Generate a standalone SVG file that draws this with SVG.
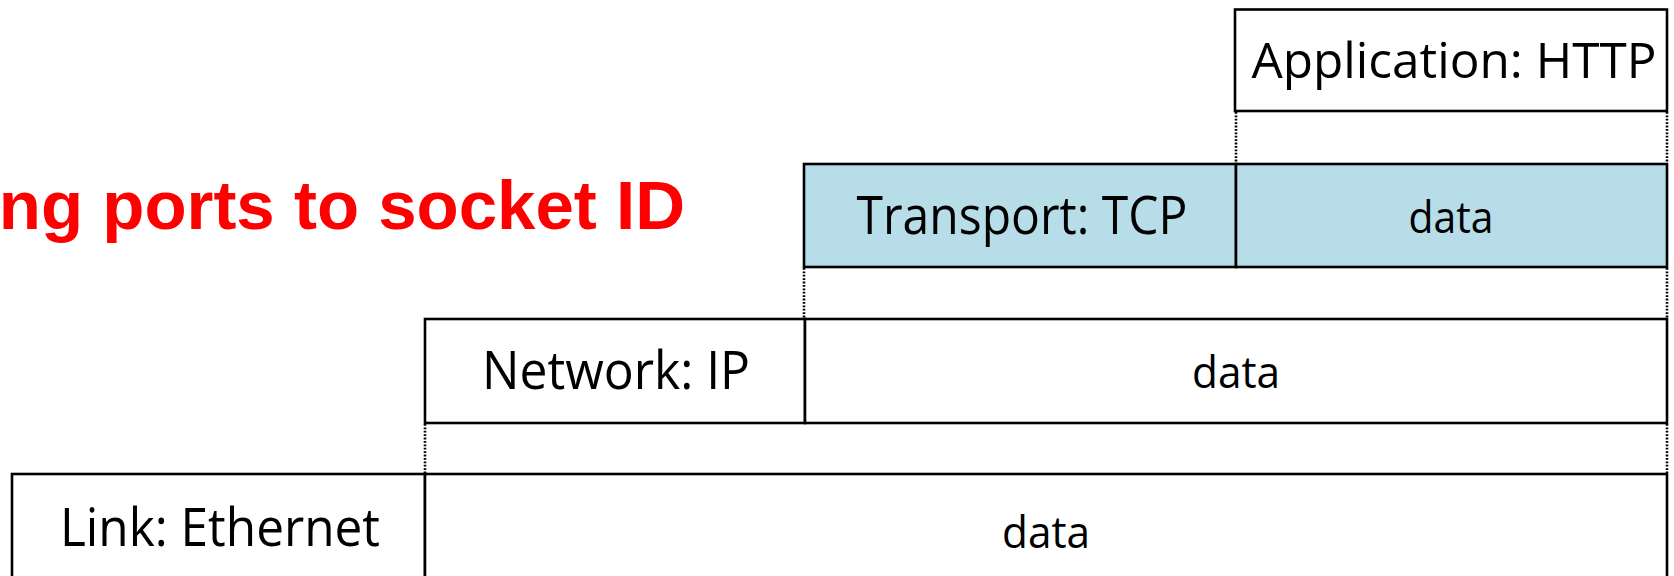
<svg xmlns="http://www.w3.org/2000/svg" width="1674" height="576" viewBox="0 0 1674 576">
<style>
.box{fill:#ffffff;stroke:#000000;stroke-width:2.6}
.tcp{fill:#B7DDE8;stroke:#000000;stroke-width:2.6}
.lbl{font-family:"Open Sans","Noto Sans",sans-serif;font-size:53px;fill:#000000;text-anchor:middle}
.dat{font-family:"Open Sans","Noto Sans",sans-serif;font-size:43px;fill:#000000;text-anchor:middle}
.dot{stroke:#000000;stroke-width:2.6;stroke-dasharray:1.8 1.6;fill:none}
.title{font-family:"Liberation Sans",Arial,sans-serif;font-weight:bold;font-size:69px;fill:#FF0000}
</style>
<rect width="1674" height="576" fill="#ffffff"/>
<text class="title" x="685" y="229" text-anchor="end">ng ports to socket ID</text>
<g id="connectors">
<line class="dot" x1="1236" y1="112" x2="1236" y2="163"/>
<line class="dot" x1="1667" y1="112" x2="1667" y2="163"/>
<line class="dot" x1="804" y1="268" x2="804" y2="318"/>
<line class="dot" x1="1667" y1="268" x2="1667" y2="318"/>
<line class="dot" x1="425" y1="424" x2="425" y2="473"/>
<line class="dot" x1="1667" y1="424" x2="1667" y2="473"/>
</g>
<g id="application">
<rect class="box" x="1235" y="9.5" width="432" height="101.5"/>
<text class="lbl" x="1454" y="78" font-size="49" style="font-size:49px" textLength="405" lengthAdjust="spacingAndGlyphs">Application: HTTP</text>
</g>
<g id="transport">
<rect class="tcp" x="804" y="164" width="432" height="103"/>
<text class="lbl" x="1022" y="234" textLength="331" lengthAdjust="spacingAndGlyphs">Transport: TCP</text>
</g>
<g id="transport-data">
<rect class="tcp" x="1236" y="164" width="431" height="103"/>
<text class="dat" x="1451" y="233" textLength="85" lengthAdjust="spacingAndGlyphs">data</text>
</g>
<g id="network">
<rect class="box" x="425" y="319" width="380" height="104"/>
<text class="lbl" x="616" y="389" textLength="268" lengthAdjust="spacingAndGlyphs">Network: IP</text>
</g>
<g id="network-data">
<rect class="box" x="805" y="319" width="862" height="104"/>
<text class="dat" x="1236" y="388" textLength="88" lengthAdjust="spacingAndGlyphs">data</text>
</g>
<g id="link">
<rect class="box" x="12" y="474" width="413" height="130"/>
<text class="lbl" x="220" y="546" textLength="320" lengthAdjust="spacingAndGlyphs">Link: Ethernet</text>
</g>
<g id="link-data">
<rect class="box" x="425" y="474" width="1242" height="130"/>
<text class="dat" x="1046" y="548" textLength="88" lengthAdjust="spacingAndGlyphs">data</text>
</g>
</svg>
